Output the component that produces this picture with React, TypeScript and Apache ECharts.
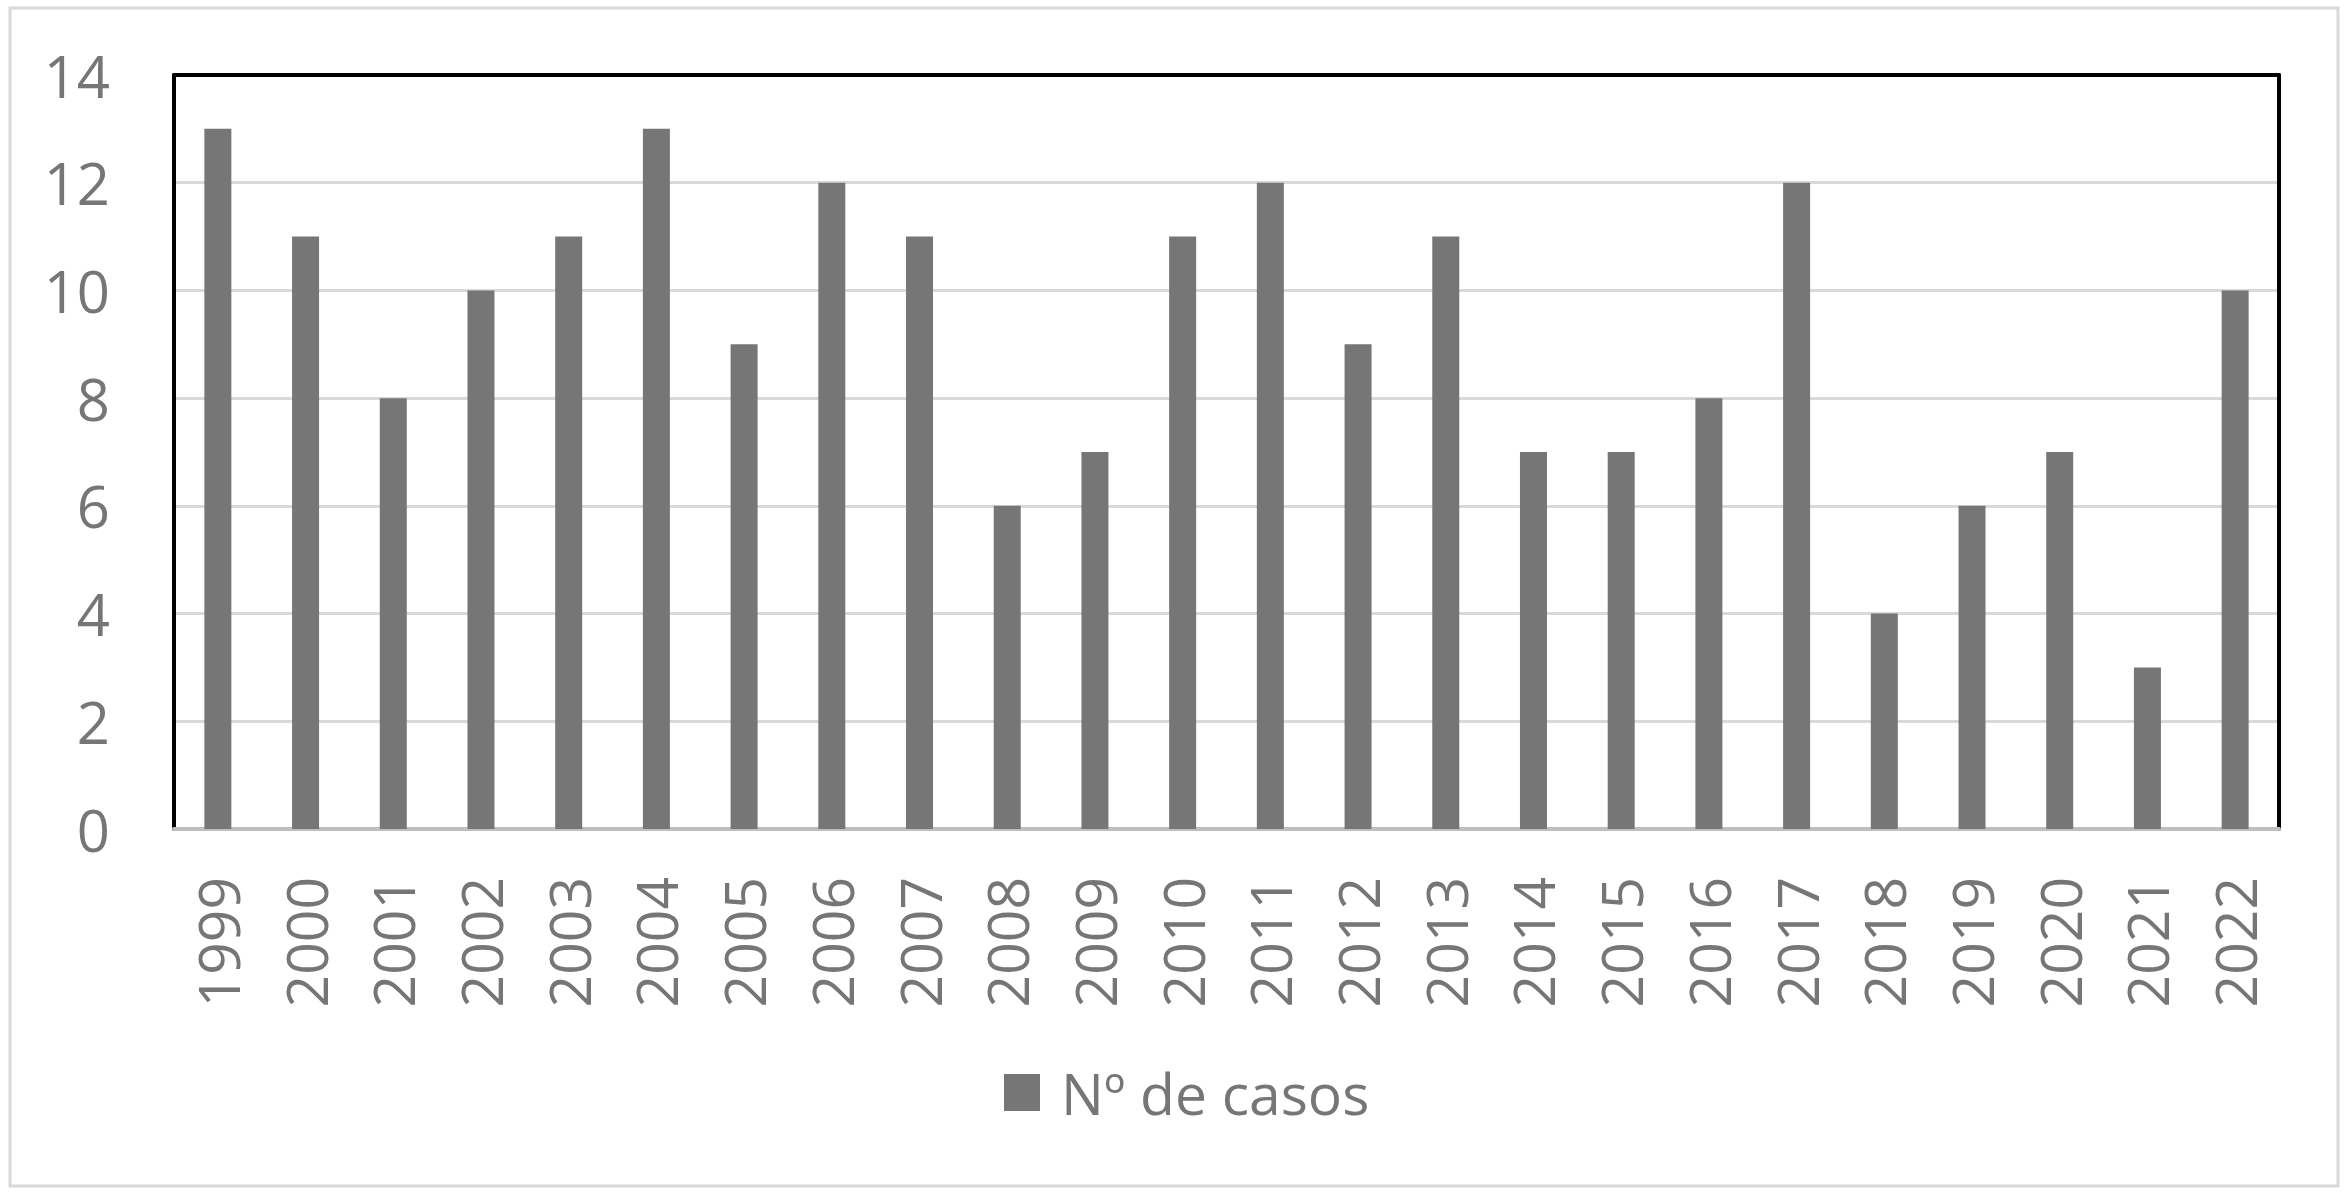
import React, { useEffect, useRef } from "react";
import * as echarts from "echarts";

const categories = [
  "1999", "2000", "2001", "2002", "2003", "2004", "2005", "2006", "2007", "2008", "2009", "2010",
  "2011", "2012", "2013", "2014", "2015", "2016", "2017", "2018", "2019", "2020", "2021", "2022",
];
const casos = [13, 11, 8, 10, 11, 13, 9, 12, 11, 6, 7, 11, 12, 9, 11, 7, 7, 8, 12, 4, 6, 7, 3, 10];
const seriesName = "Nº de casos";
const yMin = 0;
const yMax = 14;
const yInterval = 2;

const FONT = "'Open Sans', 'Noto Sans', sans-serif";
const GREY = "#767676";

export default function App() {
  const ref = useRef<HTMLDivElement>(null);
  useEffect(() => {
    document.body.style.margin = "0";
    if (!ref.current) return;
    const chart = echarts.init(ref.current, null, { renderer: "svg" });
    chart.setOption({
      animation: false,
      backgroundColor: "#ffffff",
      textStyle: { fontFamily: FONT },
      graphic: [
        {
          type: "rect",
          shape: { x: 10, y: 8, width: 2328, height: 1178 },
          style: { fill: "none", stroke: "#d9d9d9", lineWidth: 3 },
          silent: true,
          z: -10,
        },
      ],
      grid: { left: 174, right: 71, top: 75, bottom: 368, containLabel: false },
      legend: {
        show: true,
        left: 999,
        top: 1059,
        icon: "rect",
        itemWidth: 36,
        itemHeight: 37,
        textStyle: {
          color: GREY,
          fontSize: 57,
          fontFamily: FONT,
          padding: [0, 0, 0, 16],
          lineHeight: 40,
        },
        data: [seriesName],
      },
      xAxis: [
        {
          type: "category",
          data: categories,
          position: "bottom",
          axisLine: { show: true, lineStyle: { color: "#bfbfbf", width: 4 } },
          axisTick: { show: false },
          axisLabel: {
            rotate: 90,
            color: GREY,
            fontSize: 57,
            fontFamily: FONT,
            margin: 48,
            interval: 0,
          },
          splitLine: { show: false },
        },
        {
          type: "category",
          data: categories,
          position: "top",
          axisLine: { show: true, onZero: false, lineStyle: { color: "#000000", width: 4 } },
          axisTick: { show: false },
          axisLabel: { show: false },
          splitLine: { show: false },
        },
      ],
      yAxis: [
        {
          type: "value",
          min: yMin,
          max: yMax,
          interval: yInterval,
          position: "left",
          axisLine: { show: true, onZero: false, lineStyle: { color: "#000000", width: 4 } },
          axisTick: { show: false },
          axisLabel: {
            color: GREY,
            fontSize: 58,
            fontFamily: FONT,
            margin: 64,
            align: "right",
          },
          splitLine: { show: true, lineStyle: { color: "#d9d9d9", width: 3 } },
        },
        {
          type: "value",
          min: yMin,
          max: yMax,
          interval: yInterval,
          position: "right",
          axisLine: { show: true, onZero: false, lineStyle: { color: "#000000", width: 4 } },
          axisTick: { show: false },
          axisLabel: { show: false },
          splitLine: { show: false },
        },
      ],
      series: [
        {
          name: seriesName,
          type: "bar",
          data: casos,
          xAxisIndex: 0,
          yAxisIndex: 0,
          barWidth: 27,
          itemStyle: { color: GREY },
        },
      ],
    });
    return () => chart.dispose();
  }, []);
  return <div ref={ref} style={{ width: 2350, height: 1197 }} />;
}
